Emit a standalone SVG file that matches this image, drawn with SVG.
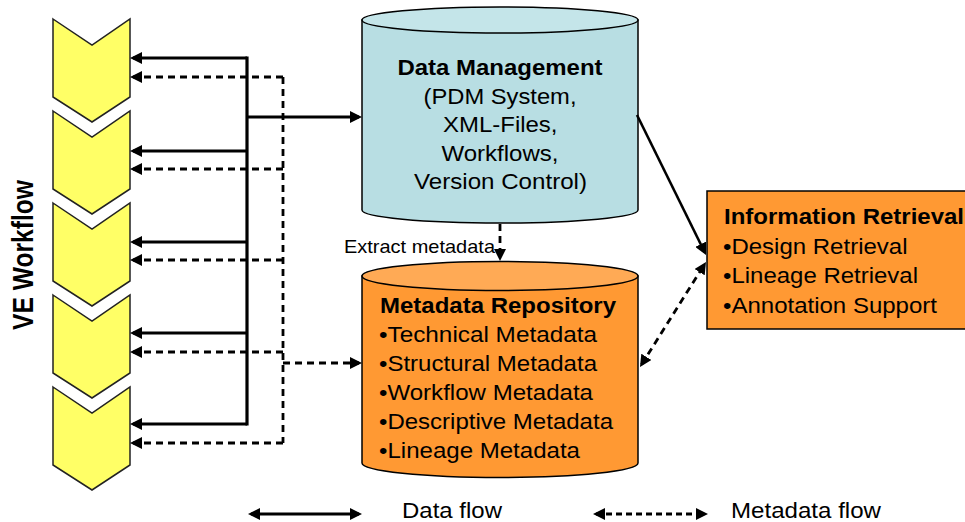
<svg xmlns="http://www.w3.org/2000/svg" width="965" height="522" viewBox="0 0 965 522">
<defs>
<style>
.t{font-family:"Liberation Sans",Arial,Helvetica,sans-serif;fill:#000;font-size:22px}
.b{font-weight:bold}
.s{stroke:#000;stroke-width:3.2;fill:none}
.d{stroke:#000;stroke-width:2.8;fill:none;stroke-dasharray:7 5}
.chev{fill:#ffff66;stroke:#222;stroke-width:1.5}
.ol{stroke:#000;stroke-width:1.5}
</style>
<marker id="ah" markerUnits="userSpaceOnUse" viewBox="0 0 12 12" markerWidth="12" markerHeight="12" refX="9" refY="6" orient="auto-start-reverse"><path d="M0,0 L12,6 L0,12 z" fill="#000"/></marker>
<polygon id="chevshape" points="53,0 92,26 130,0 130,78 92,103 53,78"/>
</defs>
<rect width="965" height="522" fill="#fff"/>

<g id="ve-workflow">
<use href="#chevshape" class="chev" y="19"/>
<use href="#chevshape" class="chev" y="111"/>
<use href="#chevshape" class="chev" y="203"/>
<use href="#chevshape" class="chev" y="295"/>
<use href="#chevshape" class="chev" y="387"/>
<text class="t b" textLength="150" lengthAdjust="spacingAndGlyphs" transform="translate(33,255) rotate(-90)" x="-75" y="0" style="font-size:29px">VE Workflow</text>
</g>

<g id="data-management">
<path d="M362,20 V210 A138,13 0 0 0 638,210 V20 Z" fill="#b8dee3" class="ol"/>
<ellipse cx="500" cy="20" rx="138" ry="13" fill="#c4e5e9" class="ol"/>
<text class="t b" x="397.5" y="74.5" textLength="205" lengthAdjust="spacingAndGlyphs">Data Management</text>
<text class="t" x="423.5" y="103.5" textLength="153" lengthAdjust="spacingAndGlyphs">(PDM System,</text>
<text class="t" x="443" y="132" textLength="114.5" lengthAdjust="spacingAndGlyphs">XML-Files,</text>
<text class="t" x="441.5" y="160.5" textLength="117" lengthAdjust="spacingAndGlyphs">Workflows,</text>
<text class="t" x="414" y="189" textLength="173" lengthAdjust="spacingAndGlyphs">Version Control)</text>
</g>

<g id="metadata-repository">
<path d="M362,276 V463 A138,14.5 0 0 0 638,463 V276 Z" fill="#ff9933" class="ol"/>
<ellipse cx="500" cy="276" rx="138" ry="14.5" fill="#ffaa55" class="ol"/>
<text class="t b" x="380" y="313" textLength="236" lengthAdjust="spacingAndGlyphs">Metadata Repository</text>
<text class="t" x="379" y="341.5" textLength="218" lengthAdjust="spacingAndGlyphs">•Technical Metadata</text>
<text class="t" x="379" y="371" textLength="218" lengthAdjust="spacingAndGlyphs">•Structural Metadata</text>
<text class="t" x="379" y="400" textLength="214" lengthAdjust="spacingAndGlyphs">•Workflow Metadata</text>
<text class="t" x="379" y="429" textLength="234" lengthAdjust="spacingAndGlyphs">•Descriptive Metadata</text>
<text class="t" x="379" y="458" textLength="201" lengthAdjust="spacingAndGlyphs">•Lineage Metadata</text>
</g>

<g id="information-retrieval">
<rect x="707" y="191" width="270" height="138" fill="#ff9933" class="ol"/>
<text class="t b" x="724" y="224" textLength="240" lengthAdjust="spacingAndGlyphs">Information Retrieval</text>
<text class="t" x="723" y="254" textLength="184.5" lengthAdjust="spacingAndGlyphs">•Design Retrieval</text>
<text class="t" x="723" y="283" textLength="195" lengthAdjust="spacingAndGlyphs">•Lineage Retrieval</text>
<text class="t" x="723" y="312.5" textLength="214" lengthAdjust="spacingAndGlyphs">•Annotation Support</text>
</g>

<g id="connectors">
<line class="s" x1="247" y1="58" x2="247" y2="424" stroke-linecap="square"/>
<path class="s" d="M247,58 H133" marker-end="url(#ah)"/>
<path class="s" d="M247,151 H133" marker-end="url(#ah)"/>
<path class="s" d="M247,242 H133" marker-end="url(#ah)"/>
<path class="s" d="M247,333 H133" marker-end="url(#ah)"/>
<path class="s" d="M247,424 H133" marker-end="url(#ah)"/>
<path class="s" d="M247,117 H359" marker-end="url(#ah)"/>
<line class="d" x1="283" y1="77" x2="283" y2="443"/>
<path class="d" d="M283,77 H133" marker-end="url(#ah)"/>
<path class="d" d="M283,169 H133" marker-end="url(#ah)"/>
<path class="d" d="M283,260 H133" marker-end="url(#ah)"/>
<path class="d" d="M283,352 H133" marker-end="url(#ah)"/>
<path class="d" d="M283,443 H133" marker-end="url(#ah)"/>
<path class="d" d="M283,363 H359" marker-end="url(#ah)"/>
<path class="d" d="M500,224 V258" marker-end="url(#ah)"/>
<text class="t" x="344" y="253" textLength="151" lengthAdjust="spacingAndGlyphs" style="font-size:18.5px">Extract metadata</text>
<path class="s" d="M637,115 L704.7,252.3" marker-end="url(#ah)" style="stroke-width:2.6"/>
<path class="d" d="M641.6,364.5 L704.4,264.5" marker-start="url(#ah)" marker-end="url(#ah)"/>
</g>

<g id="legend">
<path class="s" d="M251,514 H359" marker-start="url(#ah)" marker-end="url(#ah)"/>
<text class="t" x="402" y="518" textLength="100" lengthAdjust="spacingAndGlyphs">Data flow</text>
<path class="d" d="M596,514 H705" marker-start="url(#ah)" marker-end="url(#ah)" style="stroke-dasharray:6 4"/>
<text class="t" x="731" y="518" textLength="150" lengthAdjust="spacingAndGlyphs">Metadata flow</text>
</g>
</svg>
